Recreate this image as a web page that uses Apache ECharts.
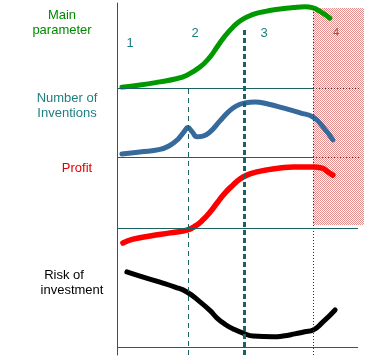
<!DOCTYPE html>
<html>
<head>
<meta charset="utf-8">
<script src="https://cdn.jsdelivr.net/npm/echarts@6/dist/echarts.min.js"></script>
<style>html,body{margin:0;padding:0;background:#fff}#c{width:367px;height:359px}</style>
</head>
<body>
<div id="c"></div>
<script>
// Curves: [x, y] in chart units (x: time 0-100, y: stacked panel height 0-100)
const mainParameter = [[2.0,76.1],[9.3,76.7],[17.4,77.6],[23.5,78.4],[28.3,79.5],[33.6,81.8],[37.7,84.7],[40.5,87.5],[43.7,90.6],[47.0,93.2],[49.8,94.9],[52.6,96.0],[56.7,97.1],[60.7,97.7],[66.0,98.3],[71.3,98.7],[76.1,98.9],[79.4,98.6],[82.2,97.6],[86.2,95.7]];
const inventions = [[2.0,57.1],[9.3,57.7],[17.4,58.4],[21.5,59.6],[24.7,61.3],[27.1,63.4],[28.7,64.6],[30.4,63.4],[32.4,62.0],[34.8,62.2],[37.7,63.4],[41.7,66.5],[45.0,69.0],[48.2,70.7],[51.8,71.6],[55.9,71.9],[61.1,71.3],[67.2,70.2],[74.1,68.8],[79.4,67.6],[83.4,64.8],[87.4,61.1]];
const profit = [[2.4,31.8],[6.5,32.9],[13.4,33.8],[21.5,34.7],[28.3,35.5],[31.6,36.6],[34.8,38.4],[37.7,40.6],[40.5,43.2],[43.7,46.0],[47.0,48.3],[49.8,50.0],[52.6,51.1],[56.7,52.0],[60.7,52.6],[66.0,53.1],[71.3,53.4],[79.4,53.4],[83.0,53.1],[85.4,52.0],[87.4,51.1]];
const risk = [[4.0,23.6],[9.3,22.4],[17.4,20.7],[23.5,19.3],[28.3,17.9],[33.6,15.1],[37.7,12.6],[40.5,10.5],[44.0,8.6],[47.0,7.4],[51.8,6.0],[55.1,5.4],[63.2,5.2],[67.2,5.4],[72.0,6.0],[76.0,6.6],[79.4,7.1],[83.4,9.4],[88.3,12.8]];
// Panel separators (y) and phase boundaries (x)
const panelLines = [75.9, 56.25, 36.1, 2.27];
const phaseBounds = [28.7, 51.4, 79.4];
const phaseLabels = ['1','2','3','4'];
const panelLabels = [['Main','parameter'],['Number of','Inventions'],['Profit'],['Risk of','investment']];

const axisColor = '#1d6262';
const font = 'Liberation Sans, Arial, sans-serif';

const cv = document.createElement('canvas');
cv.width = 2; cv.height = 2;
const cx = cv.getContext('2d');
cx.fillStyle = '#e58f8f';
cx.fillRect(0,0,1,1); cx.fillRect(1,1,1,1);

const chart = echarts.init(document.getElementById('c'), null, {renderer:'canvas'});

function lineSeries(data, color, w) {
  return {type:'line', data:data, smooth:0.5, showSymbol:false, symbol:'none', z:3,
    lineStyle:{color:color, width:w, cap:'round', join:'round'}, silent:true};
}
const ml = (a,b,style) => [{coord:a, lineStyle:style},{coord:b}];

const solid = {color:axisColor, width:1, type:'solid'};
const dotted = {color:'#333', width:1, type:[1,2]};
function txt(x, y, s, size, color) {
  return {type:'text', x:x, y:y, z:10, style:{text:s, font:size+'px '+font, fill:color, align:'center', verticalAlign:'middle'}};
}

chart.setOption({
  animation:false,
  grid:{left:117, top:3, width:247, height:352},
  xAxis:{type:'value', min:0, max:100, show:false},
  yAxis:{type:'value', min:0, max:100, axisLine:{show:true, lineStyle:{color:axisColor, width:1}}, axisTick:{show:false}, axisLabel:{show:false}, splitLine:{show:false}},
  series:[
    {type:'line', data:[], z:1, silent:true,
      markLine:{symbol:'none', silent:true, label:{show:false}, animation:false,
        data:[
          ml([0,panelLines[0]],[phaseBounds[2],panelLines[0]],solid),
          ml([phaseBounds[2],panelLines[0]],[98.4,panelLines[0]],dotted),
          ml([0,panelLines[1]],[phaseBounds[2],panelLines[1]],solid),
          ml([phaseBounds[2],panelLines[1]],[98.4,panelLines[1]],dotted),
          ml([0,panelLines[2]],[97.6,panelLines[2]],solid),
          ml([0,panelLines[3]],[97.6,panelLines[3]],solid),
          ml([phaseBounds[0],0],[phaseBounds[0],panelLines[0]],{color:axisColor,width:1,type:[5,4]}),
          ml([phaseBounds[1],0],[phaseBounds[1],93.2],{color:axisColor,width:3,type:[5,3]}),
          ml([phaseBounds[2],0],[phaseBounds[2],98.6],dotted)
        ]}
    },
    lineSeries(mainParameter,'#009a00',5),
    lineSeries(inventions,'#36699c',5),
    lineSeries(profit,'#ff0000',5.5),
    lineSeries(risk,'#000000',5),
    {type:'line', data:[], z:5, silent:true,
      markArea:{silent:true, itemStyle:{color:{image:cv, repeat:'repeat'}},
        data:[[{coord:[phaseBounds[2],98.58]},{coord:[100,36.9]}]]}
    }
  ],
  graphic:[
    txt(62, 15, panelLabels[0][0], 13, '#008a00'),
    txt(62, 30, panelLabels[0][1], 13, '#008a00'),
    txt(67, 98, panelLabels[1][0], 13, '#1f7f80'),
    txt(67, 113, panelLabels[1][1], 13, '#1f7f80'),
    txt(77, 168, panelLabels[2][0], 13, '#e00000'),
    txt(64, 275, panelLabels[3][0], 13, '#000'),
    txt(72, 290, panelLabels[3][1], 13, '#000'),
    txt(130, 43, phaseLabels[0], 13, '#1a8080'),
    txt(195, 33, phaseLabels[1], 13, '#1a8080'),
    txt(264, 33, phaseLabels[2], 13, '#1a8080'),
    txt(336, 33, phaseLabels[3], 11, '#666')
  ]
});
</script>
</body>
</html>
